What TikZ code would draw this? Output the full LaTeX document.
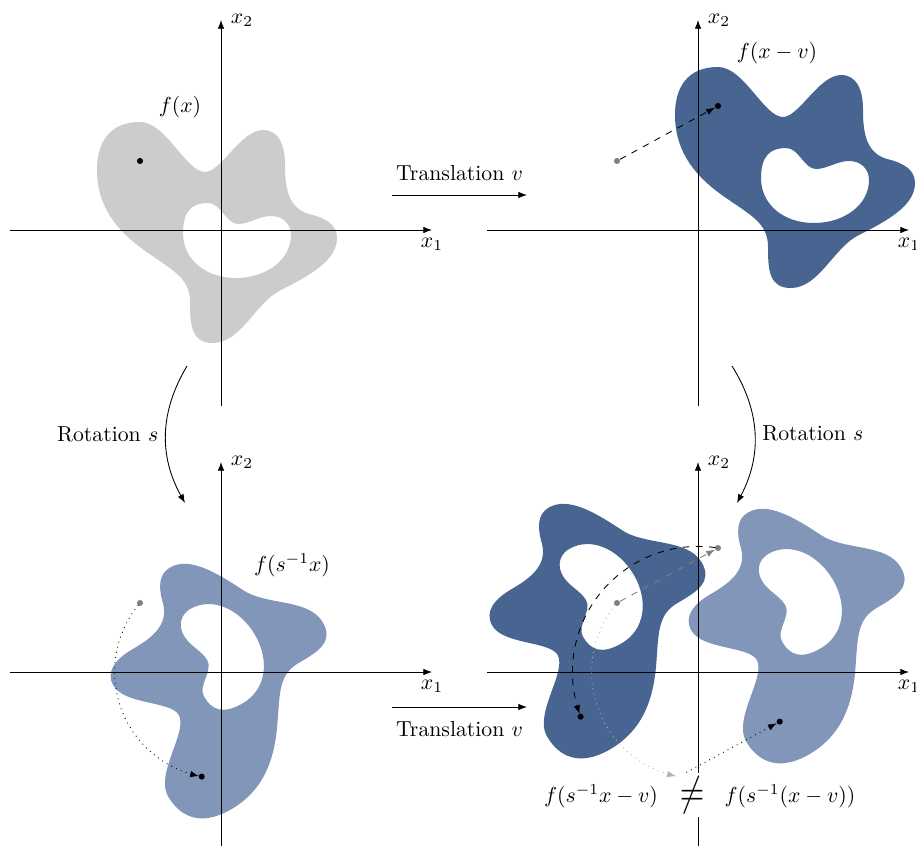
\documentclass[tikz,border=0pt]{standalone}
\usetikzlibrary{arrows.meta}
\definecolor{blobgrey}{HTML}{CCCCCC}
\definecolor{darkblob}{HTML}{486591}
\definecolor{lightblob}{HTML}{8196B8}
\definecolor{ptgrey}{HTML}{808080}
\newcommand{\blobshape}[1]{%
  \fill[#1,even odd rule]
    (-81,-108) .. controls (-55,-108) and (-35,-58) .. (-16,-58)
    .. controls (0,-58) and (20,-100) .. (42,-100)
    .. controls (58,-100) and (64,-85) .. (64,-65)
    .. controls (64,-40) and (68,-22) .. (88,-16)
    .. controls (105,-12) and (116,-5) .. (116,8)
    .. controls (116,30) and (90,45) .. (60,60)
    .. controls (35,72) and (20,113) .. (-8,113)
    .. controls (-30,113) and (-31,95) .. (-31,72)
    .. controls (-31,50) and (-45,42) .. (-70,25)
    .. controls (-100,5) and (-124,-20) .. (-124,-60)
    .. controls (-124,-95) and (-105,-108) .. (-81,-108) -- cycle
    (-38,3) .. controls (-38,-20) and (-28,-27) .. (-13,-27)
    .. controls (0,-27) and (5,-6) .. (17,-6)
    .. controls (28,-6) and (38,-14) .. (50,-14)
    .. controls (62,-14) and (70,-6) .. (70,5)
    .. controls (70,30) and (45,48) .. (15,48)
    .. controls (-15,48) and (-38,30) .. (-38,3) -- cycle;}
\tikzset{
  axisarrow/.style={-{Latex[length=4pt,width=3pt]}},
  conn/.style={-{Latex[length=4pt,width=3pt]}},
  bdot/.style={circle,fill=black,inner sep=0pt,minimum size=2.8pt},
  gdot/.style={circle,fill=ptgrey,inner sep=0pt,minimum size=2.8pt},
}
\begin{document}
\begin{tikzpicture}[x=0.46pt,y=-0.46pt]
\useasboundingbox (0,0) rectangle (916,846);
% shapes
\begin{scope}[shift={(221,230)}] \blobshape{blobgrey} \end{scope}
\begin{scope}[shift={(799,175)}] \blobshape{darkblob} \end{scope}
\begin{scope}[shift={(221,672)},rotate=120] \blobshape{lightblob} \end{scope}
\begin{scope}[shift={(698,672)},rotate=120,shift={(101,-55)}] \blobshape{darkblob} \end{scope}
\begin{scope}[shift={(799,617)},rotate=120] \blobshape{lightblob} \end{scope}
% axes
\begin{scope}[shift={(221,230)}]
  \coordinate (a1l) at (-211,0); \coordinate (a1r) at (211,0);
  \coordinate (a1b) at (0,176); \coordinate (a1t) at (0,-210);
  \draw[axisarrow] (a1l) -- (a1r) node[below] (a1x) {$x_1$};
  \draw[axisarrow] (a1b) -- (a1t) node[right,xshift=1pt] (a1y) {$x_2$};
\end{scope}
\begin{scope}[shift={(698,230)}]
  \coordinate (a2l) at (-211,0); \coordinate (a2r) at (211,0);
  \coordinate (a2b) at (0,176); \coordinate (a2t) at (0,-210);
  \draw[axisarrow] (a2l) -- (a2r) node[below] (a2x) {$x_1$};
  \draw[axisarrow] (a2b) -- (a2t) node[right,xshift=1pt] (a2y) {$x_2$};
\end{scope}
\begin{scope}[shift={(221,672)}]
  \coordinate (a3l) at (-211,0); \coordinate (a3r) at (211,0);
  \coordinate (a3b) at (0,174); \coordinate (a3t) at (0,-210);
  \draw[axisarrow] (a3l) -- (a3r) node[below] (a3x) {$x_1$};
  \draw[axisarrow] (a3b) -- (a3t) node[right,xshift=1pt] (a3y) {$x_2$};
\end{scope}
\begin{scope}[shift={(698,672)}]
  \coordinate (a4l) at (-211,0); \coordinate (a4r) at (211,0);
  \coordinate (a4b) at (0,174); \coordinate (a4t) at (0,-210);
  \draw[axisarrow] (a4l) -- (a4r) node[below] (a4x) {$x_1$};
  \draw[axisarrow] (a4b) -- (a4t) node[right,xshift=1pt] (a4y) {$x_2$};
\end{scope}
% transformation arrows
\coordinate (t1s) at (392,195); \coordinate (t1e) at (527,195);
\draw[conn] (t1s) -- node[above=3pt] (t1l) {Translation $v$} (t1e);
\coordinate (t2s) at (392,707); \coordinate (t2e) at (527,707);
\draw[conn] (t2s) -- node[below=3pt] (t2l) {Translation $v$} (t2e);
\coordinate (r1s) at (187,366); \coordinate (r1e) at (185,503);
\draw[conn] (r1s) to[bend right=30] node[left] (r1l) {Rotation $s$} (r1e);
\coordinate (r2s) at (732,366); \coordinate (r2e) at (737,503);
\draw[conn] (r2s) to[bend left=30] node[right] (r2l) {Rotation $s$} (r2e);
% points top-left
\node[bdot] (pA) at (140,161) {};
% top-right
\node[gdot] (pB0) at (617,161) {};
\node[bdot] (pB1) at (718,106) {};
\draw[conn,dashed] (pB0) -- (pB1);
% bottom-left
\node[gdot] (pC0) at (140,603) {};
\node[bdot] (pC1) at (201.7,776.6) {};
\draw[conn,dotted] plot[domain=141:258,samples=60] ({221+106.4*cos(\x)},{672-106.4*sin(\x)});
% bottom-right
\node[gdot] (pD0) at (617,603) {};
\node[gdot] (pD1) at (718,548) {};
\node[gdot] (pD2) at (678.7,776.6) {};
\node[bdot] (pD3) at (580.6,716.7) {};
\node[bdot] (pD4) at (779.7,721.6) {};
\draw[conn,dashed,ptgrey] (pD0) -- (pD1);
\draw[conn,dashed] plot[domain=82:199.5,samples=60] ({698+125.6*cos(\x)},{672-125.6*sin(\x)});
\draw[conn,dotted,gray!60] plot[domain=141:258,samples=60] ({698+106.4*cos(\x)},{672-106.4*sin(\x)});
\draw[conn,dotted] (pD2) -- (pD4);
% labels
\node (fx) at (180,107) {$f(x)$};
\node (fxv) at (777,53) {$f(x-v)$};
\node (fsx) at (292,565) {$f(s^{-1}x)$};
\node[fill=white,inner sep=1.5pt] (neq) at (692,795) {\scalebox{1.45}[1.9]{$\neq$}};
\node (lhs) at (601,796) {$f(s^{-1}x-v)$};
\node (rhs) at (790,796) {$f(s^{-1}(x-v))$};
\end{tikzpicture}
\end{document}
